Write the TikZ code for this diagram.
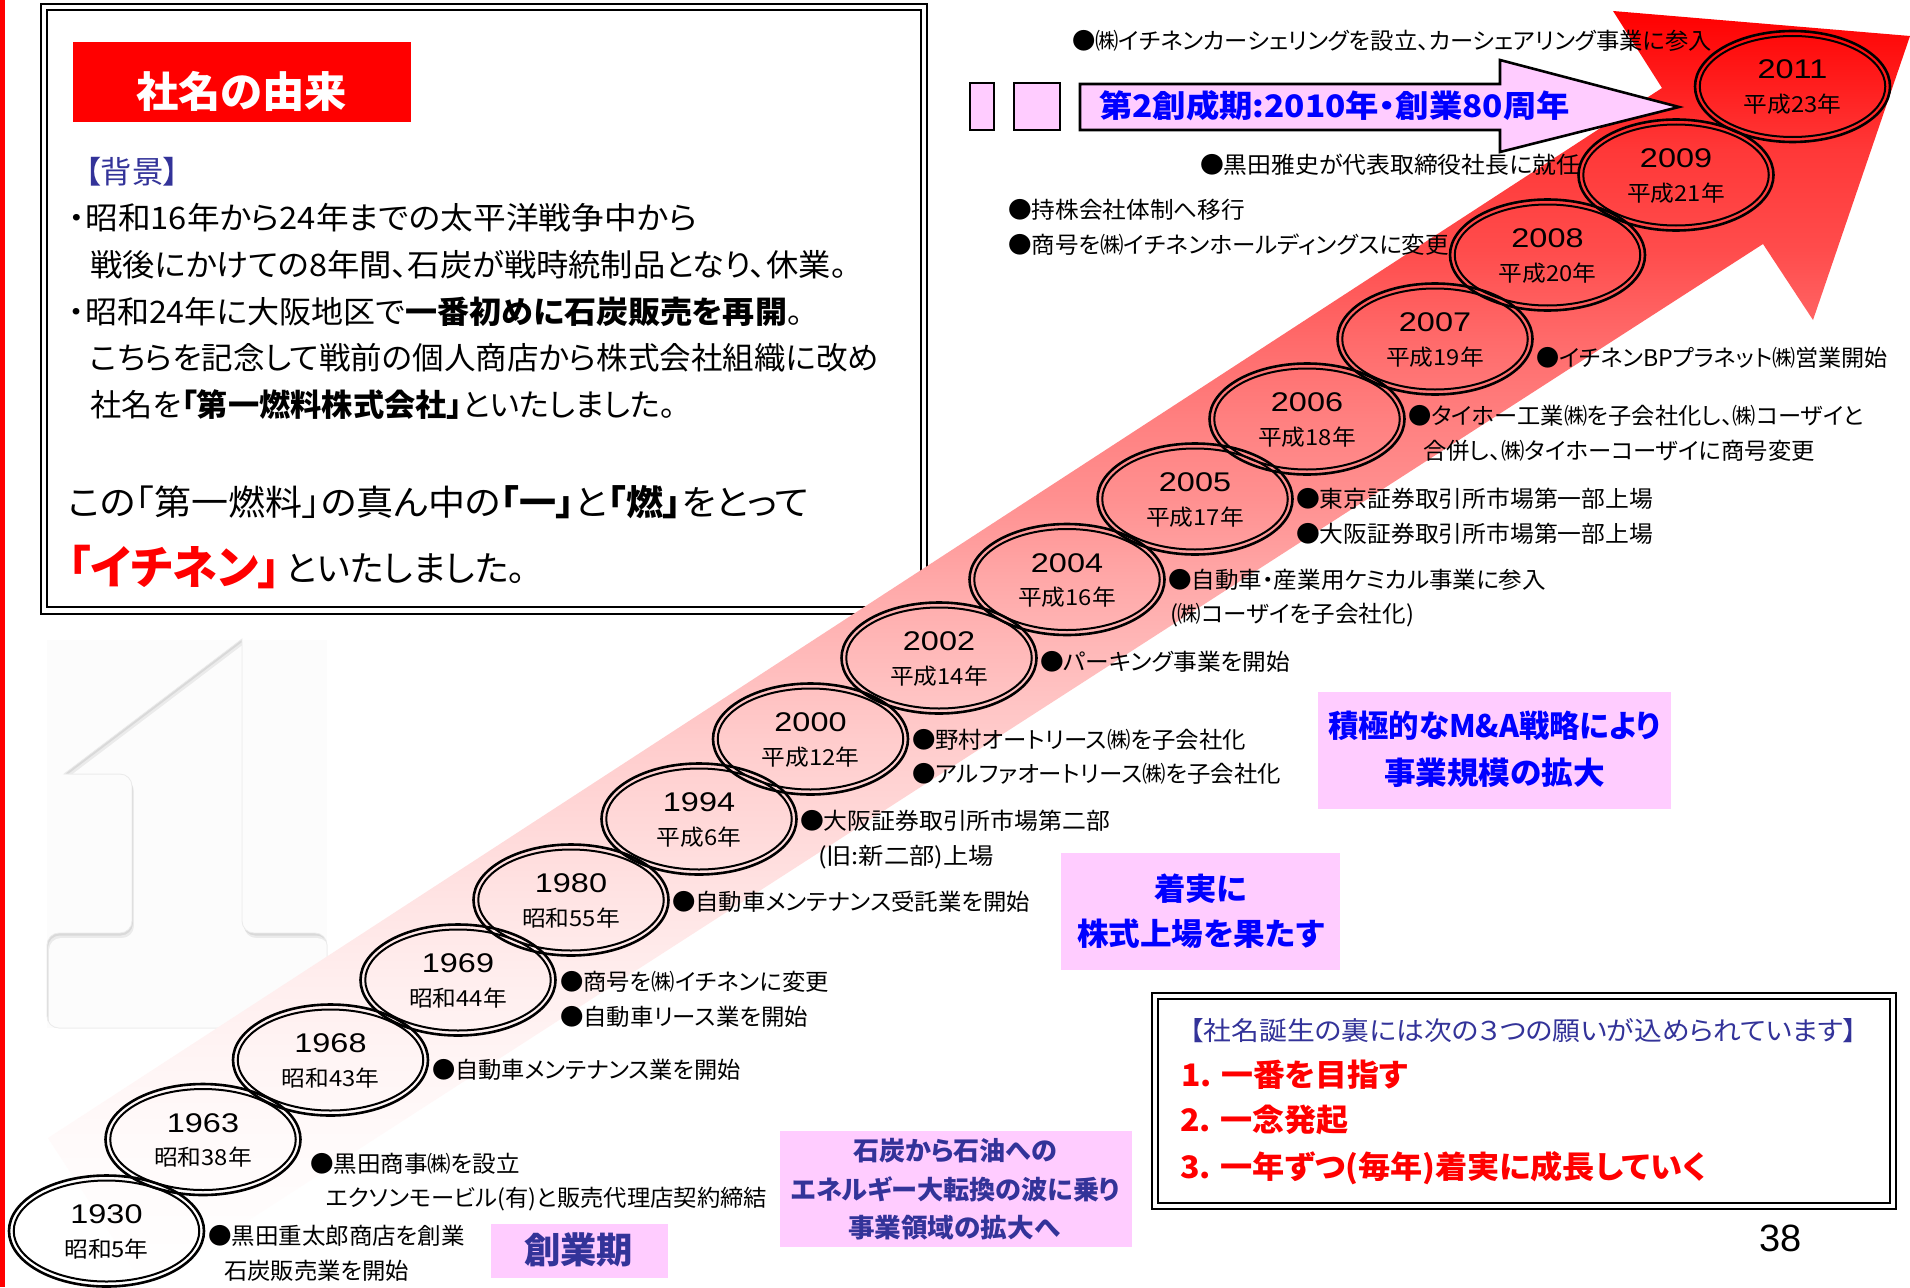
\documentclass[tikz,border=0pt]{standalone}
\usepackage{fontspec}
\usepackage{graphicx}
\usetikzlibrary{shapes.geometric}
\setmainfont{Noto Sans CJK JP}[RawFeature=+palt]
\newfontfamily\latinf{Liberation Sans}
\definecolor{pinkbox}{HTML}{FFCCFF}
\definecolor{navy}{HTML}{333399}
\definecolor{puretblue}{HTML}{0000FF}
\definecolor{purered}{HTML}{FF0000}
\pgfdeclareverticalshading{arrowgrad}{100bp}{rgb(0bp)=(1,1,1); rgb(25bp)=(1,1,1); rgb(30.76bp)=(1,.98,.98); rgb(33.9bp)=(1,.96,.96); rgb(37.03bp)=(1,.933,.933); rgb(40.16bp)=(1,.894,.894); rgb(43.3bp)=(1,.847,.847); rgb(46.43bp)=(1,.8,.8); rgb(49.57bp)=(1,.733,.733); rgb(52.7bp)=(1,.659,.659); rgb(55.88bp)=(1,.565,.565); rgb(59bp)=(1,.502,.502); rgb(62.15bp)=(1,.416,.416); rgb(65.64bp)=(1,.298,.298); rgb(69.55bp)=(1,.22,.22); rgb(75bp)=(1,0,0); rgb(100bp)=(1,0,0)}
\tikzset{
  txt/.style={inner sep=0pt,outer sep=0pt,anchor=base west,text=black},
  ctxt/.style={inner sep=0pt,outer sep=0pt,anchor=base,text=black},
  boxn/.style={inner sep=0pt,outer sep=0pt,rectangle},
  ellout/.style={ellipse,draw=black,line width=2.6pt,inner sep=0pt,outer sep=0pt,minimum width=195pt,minimum height=111pt},
  ellin/.style={ellipse,draw=black,line width=2pt,inner sep=0pt,outer sep=0pt,minimum width=185.5pt,minimum height=101pt},
  pinkfill/.style={boxn,fill=pinkbox},
  dblo/.style={boxn,draw=black,line width=2.4pt},
  dbli/.style={boxn,draw=black,line width=1.6pt},
  parrow/.style={draw=black,line width=2.6pt,fill=pinkbox,miter limit=10},
}
% name, x, y-centre, width, size, font switches, text
\newcommand{\T}[7]{\node[txt] (#1) at (#2,{#3+0.40*#5}) {\fontsize{#5pt}{#5pt}\selectfont#6\resizebox{#4pt}{\height}{#7}};}
% name, x1,y1,x2,y2, style
\newcommand{\BX}[6]{\node[#6,minimum width={(#4-#2)*1pt},minimum height={(#5-#3)*1pt}] (#1) at ({(#2+#4)/2},{(#3+#5)/2}) {};}
% key, cx, cy, year, era
\newcommand{\EL}[5]{%
  \node[ellout] (eo#1) at (#2,#3) {};
  \node[ellin] (ei#1) at (#2,#3) {};
  \node[ctxt] (ya#1) at ([yshift=7.5pt]eo#1.center) {\fontsize{27pt}{27pt}\selectfont\latinf\scalebox{1.2}[1]{#4}};
  \node[ctxt] (er#1) at ([yshift=-26pt]eo#1.center) {\fontsize{22pt}{22pt}\selectfont\scalebox{1.08}[1]{#5}};
}
\newcommand{\oneshape}{(242,639) -- (64,774) [rounded corners=12pt] -- (132,774) -- (132,933) -- (47,933) -- (47,1028) -- (327,1028) -- (327,933) -- (242,933) [sharp corners] -- cycle}
\begin{document}
\begin{tikzpicture}[x=1pt,y=-1pt]
\useasboundingbox (0,0) rectangle (1910,1287);
\fill[white] (0,0) rectangle (1910,1287);
\BX{redbar}{0}{0}{4.5}{1287}{boxn,fill=purered}
% faint watermark
\fill[fill=black!1] (47,640) rectangle (327,1028);
\begin{scope}
  \clip \oneshape;
  \fill[black!15] \oneshape;
  \begin{scope}[xshift=1pt,yshift=-2.5pt]\fill[black!8] \oneshape;\end{scope}
  \begin{scope}[xshift=2pt,yshift=-5pt]\fill[black!1] \oneshape;\end{scope}
\end{scope}
\draw[black!8,line width=.8pt] \oneshape;
% left panel
\BX{panelo}{41}{4}{927}{614}{dblo}
\BX{paneli}{47}{10}{921}{607}{dbli}
\BX{titlebox}{73}{42}{411}{122}{boxn,fill=purered}
% big arrow
\shade[shading=arrowgrad] (48,1138) -- (1662,88) -- (1613,11) -- (1910,36) -- (1813,320) -- (1763,244) -- (145,1287) -- cycle;
% pink arrow and blocks
\draw[parrow] (1080,84) -- (1500,84) -- (1500,60) -- (1679,107) -- (1500,152) -- (1500,130) -- (1080,130) -- cycle;
\BX{bar1}{970}{83}{994}{130}{boxn,fill=pinkbox,draw=black,line width=2.6pt}
\BX{bar2}{1014}{83}{1060}{130}{boxn,fill=pinkbox,draw=black,line width=2.6pt}
\T{arrowt}{1099}{105}{471}{31}{\bfseries\color{puretblue}}{第2創成期:2010年・創業80周年}
% panel text
\T{title}{136}{91}{211}{42}{\bfseries\color{white}}{社名の由来}
\T{bg}{85}{171}{94}{31}{\color{navy}}{【背景】}
\T{l1}{69}{217.5}{628}{31}{}{・昭和16年から24年までの太平洋戦争中から}
\T{l2}{90}{264.5}{757}{31}{}{戦後にかけての8年間、石炭が戦時統制品となり、休業。}
\T{l3}{69}{311}{734}{31}{}{・昭和24年に大阪地区で\textbf{一番初めに石炭販売を再開}。}
\T{l4}{90}{357}{789}{31}{}{こちらを記念して戦前の個人商店から株式会社組織に改め}
\T{l5}{90}{404}{586}{31}{}{社名を\textbf{「第一燃料株式会社」}といたしました。}
\T{l6}{68}{501}{741}{35}{}{この「第一燃料」の真ん中の\textbf{「一」}と\textbf{「燃」}をとって}
\T{l7a}{68}{566}{213}{46}{\bfseries\color{purered}}{「イチネン」}
\T{l7b}{286}{567}{240}{35}{}{といたしました。}
% pink blocks
\BX{sogyo}{491}{1224}{668}{1278}{pinkfill}
\T{sogyot}{524}{1249.5}{109}{36}{\bfseries\color{navy}}{創業期}
\BX{sekitan}{780}{1131}{1132}{1247}{pinkfill}
\T{s1}{853}{1150}{204}{26}{\bfseries\color{navy}}{石炭から石油への}
\T{s2}{791}{1189}{329}{26}{\bfseries\color{navy}}{エネルギー大転換の波に乗り}
\T{s3}{848}{1227}{212}{26}{\bfseries\color{navy}}{事業領域の拡大へ}
\BX{chaku}{1061}{853}{1340}{970}{pinkfill}
\T{c1}{1154}{888}{93}{31}{\bfseries\color{puretblue}}{着実に}
\T{c2}{1077}{933}{247}{31}{\bfseries\color{puretblue}}{株式上場を果たす}
\BX{seki}{1318}{692}{1671}{809}{pinkfill}
\T{m1}{1328}{725}{332}{31}{\bfseries\color{puretblue}}{積極的なM\&A戦略により}
\T{m2}{1384}{772}{221}{31}{\bfseries\color{puretblue}}{事業規模の拡大}
% lower right panel
\BX{wisho}{1152}{993}{1896}{1209}{dblo}
\BX{wishi}{1158}{999}{1890}{1203}{dbli}
\T{w0}{1190}{1030}{667}{26}{\color{navy}}{【社名誕生の裏には次の３つの願いが込められています】}
\T{w1}{1181}{1074}{227}{31}{\bfseries\color{purered}}{1. 一番を目指す}
\T{w2}{1180}{1119}{169}{31}{\bfseries\color{purered}}{2. 一念発起}
\T{w3}{1180}{1166}{526}{31}{\bfseries\color{purered}}{3. 一年ずつ(毎年)着実に成長していく}
\node[txt] (pageno) at (1759,1251) {\fontsize{38pt}{38pt}\selectfont\latinf 38};
% event labels
\T{a1}{208}{1235}{257}{23}{}{●黒田重太郎商店を創業}
\T{a2}{224}{1270}{185}{23}{}{石炭販売業を開始}
\T{b1}{310}{1163}{210}{23}{}{●黒田商事㈱を設立}
\T{b2}{326}{1197}{441}{23}{}{エクソンモービル(有)と販売代理店契約締結}
\T{d1}{432}{1069}{309}{23}{}{●自動車メンテナンス業を開始}
\T{f1}{560}{981}{269}{23}{}{●商号を㈱イチネンに変更}
\T{f2}{560}{1016}{248}{23}{}{●自動車リース業を開始}
\T{g1}{672}{901}{358}{23}{}{●自動車メンテナンス受託業を開始}
\T{h1}{800}{820.5}{310}{23}{}{●大阪証券取引所市場第二部}
\T{h2}{818}{855}{176}{23}{}{(旧:新二部)上場}
\T{i1}{912}{739}{334}{23}{}{●野村オートリース㈱を子会社化}
\T{i2}{912}{773}{369}{23}{}{●アルファオートリース㈱を子会社化}
\T{j1}{1040}{661}{250}{23}{}{●パーキング事業を開始}
\T{k1}{1168}{579}{378}{23}{}{●自動車・産業用ケミカル事業に参入}
\T{k2}{1170}{613}{244}{23}{}{(㈱コーザイを子会社化)}
\T{n1}{1296}{498}{357}{23}{}{●東京証券取引所市場第一部上場}
\T{n2}{1296}{533}{357}{23}{}{●大阪証券取引所市場第一部上場}
\T{o1}{1408}{415.5}{456}{23}{}{●タイホー工業㈱を子会社化し、㈱コーザイと}
\T{o2}{1423}{450}{392}{23}{}{合併し、㈱タイホーコーザイに商号変更}
\T{p1}{1536}{357}{352}{23}{}{●イチネンBPプラネット㈱営業開始}
\T{q1}{1008}{209}{237}{23}{}{●持株会社体制へ移行}
\T{q2}{1008}{244}{441}{23}{}{●商号を㈱イチネンホールディングスに変更}
\T{r1}{1200}{164.5}{380}{23}{}{●黒田雅史が代表取締役社長に就任}
\T{u1}{1072}{40}{640}{23}{}{●㈱イチネンカーシェリングを設立、カーシェアリング事業に参入}
% year ellipses
\EL{a}{106.5}{1231}{1930}{昭和5年}
\EL{b}{203}{1139.5}{1963}{昭和38年}
\EL{c}{330.5}{1060}{1968}{昭和43年}
\EL{d}{458}{980}{1969}{昭和44年}
\EL{e}{571}{900}{1980}{昭和55年}
\EL{f}{699}{819}{1994}{平成6年}
\EL{g}{810.5}{739}{2000}{平成12年}
\EL{h}{939}{658}{2002}{平成14年}
\EL{i}{1067}{579.5}{2004}{平成16年}
\EL{j}{1195}{499}{2005}{平成17年}
\EL{k}{1307}{419}{2006}{平成18年}
\EL{l}{1435}{339}{2007}{平成19年}
\EL{m}{1547.5}{255}{2008}{平成20年}
\EL{n}{1676}{175}{2009}{平成21年}
\EL{o}{1792.5}{86.5}{2011}{平成23年}
\end{tikzpicture}
\end{document}
